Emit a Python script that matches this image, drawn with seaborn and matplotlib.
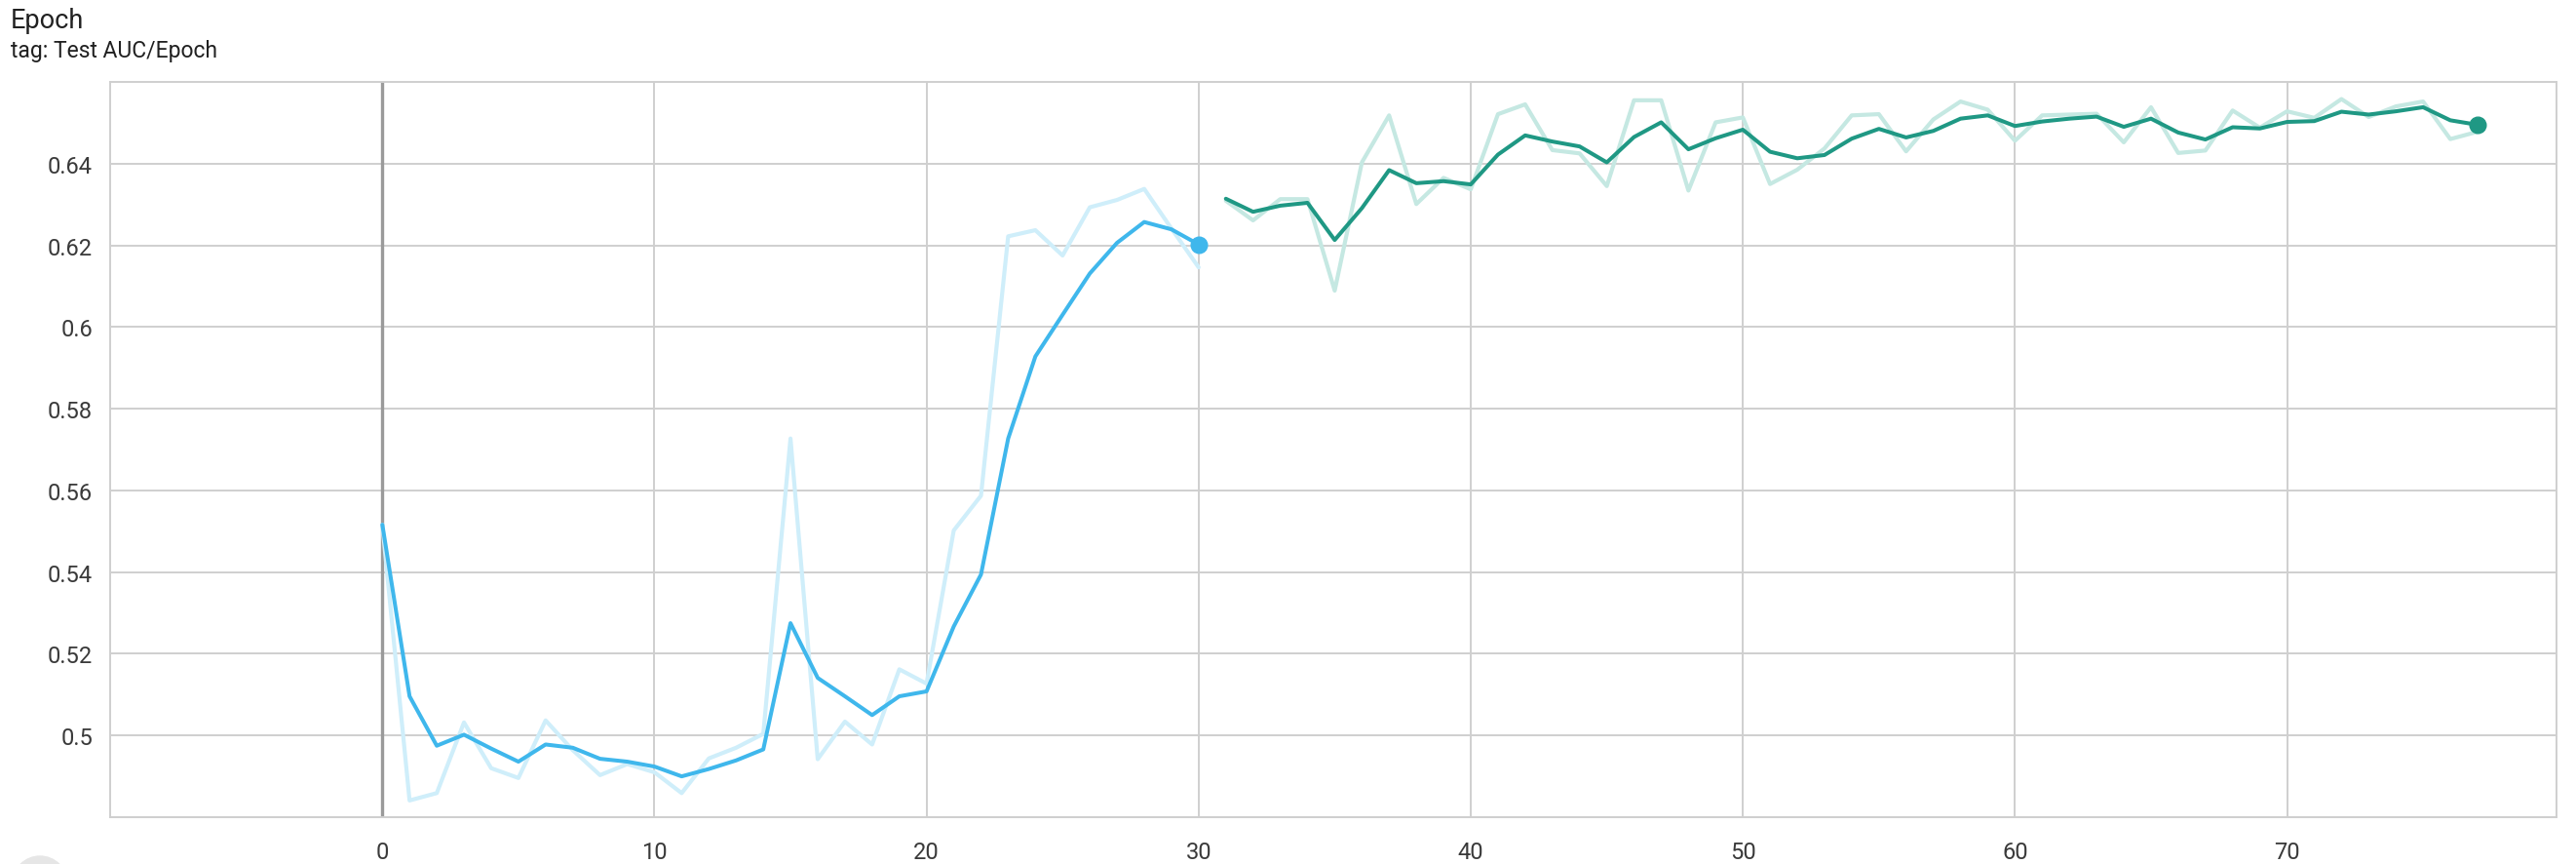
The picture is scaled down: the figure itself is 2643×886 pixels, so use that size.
import seaborn as sns
import matplotlib.pyplot as plt
import pandas as pd
from matplotlib.patches import Circle

# run 1 (blue), epochs 0-30
blue_epoch = list(range(0, 31))
blue_raw = [0.5516, 0.4841, 0.4859, 0.5032, 0.4920, 0.4896, 0.5037, 0.4964, 0.4903, 0.4930,
            0.4910, 0.4859, 0.4944, 0.4970, 0.5004, 0.5727, 0.4942, 0.5034, 0.4978, 0.5162,
            0.5127, 0.5502, 0.5587, 0.6222, 0.6237, 0.6175, 0.6293, 0.6311, 0.6338, 0.6241,
            0.6146]
blue_smooth = [0.5516, 0.5096, 0.4975, 0.5002, 0.4968, 0.4936, 0.4978, 0.4970, 0.4943, 0.4936,
               0.4924, 0.4900, 0.4918, 0.4939, 0.4966, 0.5275, 0.5141, 0.5096, 0.5050, 0.5096,
               0.5108, 0.5267, 0.5394, 0.5727, 0.5928, 0.6030, 0.6131, 0.6206, 0.6257, 0.6239,
               0.6202]

# run 2 (green), epochs 31-77
green_epoch = list(range(31, 78))
green_raw = [0.6309, 0.6261, 0.6313, 0.6313, 0.6089, 0.6403, 0.6518, 0.6301, 0.6365, 0.6337,
             0.6521, 0.6545, 0.6433, 0.6425, 0.6345, 0.6555, 0.6555, 0.6334, 0.6501, 0.6513,
             0.6350, 0.6385, 0.6437, 0.6518, 0.6521, 0.6430, 0.6508, 0.6552, 0.6532, 0.6456,
             0.6518, 0.6520, 0.6522, 0.6452, 0.6538, 0.6426, 0.6432, 0.6530, 0.6488, 0.6528,
             0.6512, 0.6558, 0.6514, 0.6540, 0.6552, 0.6460, 0.6478]
green_smooth = [0.6314, 0.6282, 0.6297, 0.6304, 0.6213, 0.6291, 0.6384, 0.6352, 0.6357, 0.6349,
                0.6422, 0.6469, 0.6454, 0.6442, 0.6403, 0.6465, 0.6501, 0.6435, 0.6462, 0.6483,
                0.6429, 0.6413, 0.6421, 0.6461, 0.6485, 0.6464, 0.6480, 0.6510, 0.6518, 0.6492,
                0.6503, 0.6510, 0.6515, 0.6490, 0.6510, 0.6476, 0.6459, 0.6489, 0.6486, 0.6502,
                0.6504, 0.6527, 0.6520, 0.6528, 0.6538, 0.6506, 0.6495]

x_ticks = [-10, 0, 10, 20, 30, 40, 50, 60, 70]
x_labels = ['', '0', '10', '20', '30', '40', '50', '60', '70']
y_ticks = [0.48, 0.50, 0.52, 0.54, 0.56, 0.58, 0.60, 0.62, 0.64, 0.66]
y_labels = ['', '0.5', '0.52', '0.54', '0.56', '0.58', '0.6', '0.62', '0.64', '']

blue_df = pd.DataFrame({'epoch': blue_epoch, 'raw': blue_raw, 'smooth': blue_smooth})
green_df = pd.DataFrame({'epoch': green_epoch, 'raw': green_raw, 'smooth': green_smooth})

sns.set_style("white")
plt.rcParams['font.family'] = ['Roboto', 'DejaVu Sans']

BLUE, BLUE_LIGHT = '#3fb7ec', '#cfeefa'
GREEN, GREEN_LIGHT = '#1f9884', '#c5e8e2'
GRID = '#cfcfcf'

fig = plt.figure(figsize=(26.43, 8.87), dpi=100)
ax = fig.add_axes([0.0428, 0.0541, 0.9496, 0.8501])

ax.axvline(0, color='#9a9a9a', lw=2.4, zorder=1)

sns.lineplot(x='epoch', y='raw', data=blue_df, color=BLUE_LIGHT, lw=3.0, ax=ax, zorder=2)
sns.lineplot(x='epoch', y='raw', data=green_df, color=GREEN_LIGHT, lw=3.0, ax=ax, zorder=2)
sns.lineplot(x='epoch', y='smooth', data=blue_df, color=BLUE, lw=2.9, ax=ax, zorder=3)
sns.lineplot(x='epoch', y='smooth', data=green_df, color=GREEN, lw=2.9, ax=ax, zorder=3)

ax.plot(blue_df['epoch'].iloc[-1:], blue_df['smooth'].iloc[-1:], 'o', color=BLUE, ms=12, zorder=4)
ax.plot(green_df['epoch'].iloc[-1:], green_df['smooth'].iloc[-1:], 'o', color=GREEN, ms=12, zorder=4)

ax.set_xlim(-10, 79.9)
ax.set_ylim(0.48, 0.66)
ax.set_xticks(x_ticks)
ax.set_xticklabels(x_labels)
ax.set_yticks(y_ticks)
ax.set_yticklabels(y_labels)
ax.set_xlabel('')
ax.set_ylabel('')

ax.grid(True, color=GRID, lw=1.4, zorder=0)
ax.set_axisbelow(True)
for s in ax.spines.values():
    s.set_color(GRID)
    s.set_linewidth(1.4)
ax.tick_params(axis='both', which='both', length=7, width=1.4, color=GRID,
               labelsize=17, labelcolor='#3a3a3a', pad=6)
ax.tick_params(axis='x', pad=10)

fig.text(0.0042, 0.967, 'Epoch', fontsize=19.5, color='#212121', va='baseline')
fig.text(0.0042, 0.933, 'tag: Test AUC/Epoch', fontsize=16.5, color='#212121', va='baseline')

fig.patches.append(Circle((41, -20), 28, transform=None, color='#e6e6e6', zorder=0))

fig.savefig('out.png', dpi=100)
